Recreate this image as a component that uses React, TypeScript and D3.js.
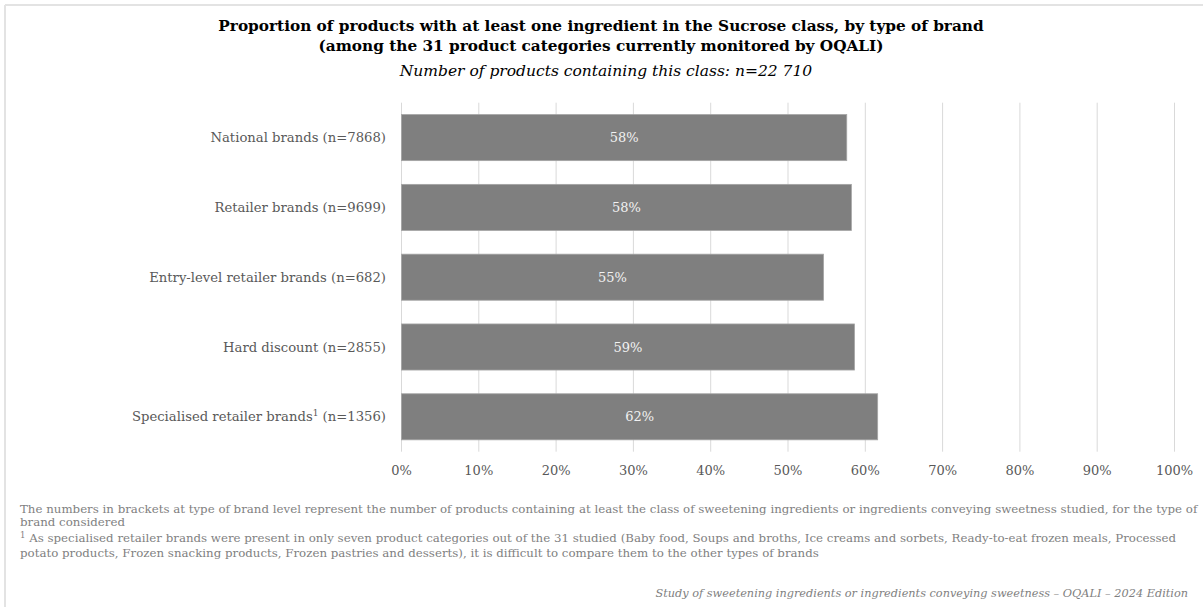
import React from "react";
import * as d3 from "d3";

const categories = [
  "National brands",
  "Retailer brands",
  "Entry-level retailer brands",
  "Hard discount",
  "Specialised retailer brands",
];
const counts = [7868, 9699, 682, 2855, 1356];
const superscripts = ["", "", "", "", "1"];
const values = [57.6, 58.2, 54.6, 58.6, 61.6];
const ticks = [0, 10, 20, 30, 40, 50, 60, 70, 80, 90, 100];

const titleLines = [
  "Proportion of products with at least one ingredient in the Sucrose class, by type of brand",
  "(among the 31 product categories currently monitored by OQALI)",
];
const subtitle = "Number of products containing this class: n=22 710";
const footnotes = [
  "The numbers in brackets at type of brand level represent the number of products containing at least the class of sweetening ingredients or ingredients conveying sweetness studied, for the type of",
  "brand considered",
];
const footnote2 = [
  " As specialised retailer brands were present in only seven product categories out of the 31 studied (Baby food, Soups and broths, Ice creams and sorbets, Ready-to-eat frozen meals, Processed",
  "potato products, Frozen snacking products, Frozen pastries and desserts), it is difficult to compare them to the other types of brands",
];
const source = "Study of sweetening ingredients or ingredients conveying sweetness \u2013 OQALI \u2013 2024 Edition";

const W = 1203;
const H = 607;
const FONT = "'DejaVu Serif', serif";

export default function App() {
  const x = d3.scaleLinear().domain([0, 100]).range([401.5, 1174.5]);
  const y = d3
    .scaleBand<number>()
    .domain(d3.range(categories.length))
    .range([102.7, 451.7])
    .paddingInner(0.34)
    .paddingOuter(0.17);

  return (
    <svg
      width={W}
      height={H}
      style={{ position: "absolute", left: 0, top: 0, background: "#fff" }}
      fontFamily={FONT}
    >
      <rect x={0} y={0} width={W} height={H} fill="#fff" />
      <line x1={5} y1={5} x2={W} y2={5} stroke="#e3e3e3" strokeWidth={2} />
      <line x1={5} y1={5} x2={5} y2={H} stroke="#e3e3e3" strokeWidth={2} />

      {titleLines.map((t, i) => (
        <text
          key={i}
          x={601}
          y={30.5 + i * 20.5}
          textAnchor="middle"
          fontWeight="bold"
          fontSize={15.3}
          fill="#000"
        >
          {t}
        </text>
      ))}
      <text x={606} y={75.5} textAnchor="middle" fontStyle="italic" fontSize={15.5} fill="#000">
        {subtitle}
      </text>

      {ticks.map((t) => (
        <line
          key={t}
          x1={x(t)}
          x2={x(t)}
          y1={y.range()[0]}
          y2={y.range()[1]}
          stroke="#d9d9d9"
          strokeWidth={1}
        />
      ))}

      {values.map((v, i) => (
        <g key={i}>
          <rect
            x={x(0)}
            y={y(i)!}
            width={x(v) - x(0)}
            height={y.bandwidth()}
            fill="#7f7f7f"
            stroke="#a5a5a5"
            strokeWidth={0.8}
          />
          <text
            x={(x(0) + x(v)) / 2}
            y={y(i)! + y.bandwidth() / 2}
            dy="0.35em"
            textAnchor="middle"
            fontSize={13}
            fill="#f2f2f2"
          >
            {Math.round(v)}%
          </text>
          <text
            x={386}
            y={y(i)! + y.bandwidth() / 2 + 4.6}
            textAnchor="end"
            fontSize={13.2}
            fill="#595959"
          >
            {categories[i]}
            {superscripts[i] ? (
              <tspan fontSize={9} dy={-5}>
                {superscripts[i]}
              </tspan>
            ) : null}
            <tspan dy={superscripts[i] ? 5 : 0}>{" (n=" + counts[i] + ")"}</tspan>
          </text>
        </g>
      ))}

      {ticks.map((t) => (
        <text
          key={t}
          x={x(t)}
          y={470}
          dy="0.35em"
          textAnchor="middle"
          fontSize={13}
          fill="#595959"
        >
          {t}%
        </text>
      ))}

      {footnotes.map((t, i) => (
        <text key={i} x={20} y={512.5 + i * 13.5} fontSize={11.8} fill="#7f7f7f">
          {t}
        </text>
      ))}
      {footnote2.map((t, i) => (
        <text key={i} x={20} y={541.5 + i * 15} fontSize={11.8} fill="#7f7f7f">
          {i === 0 ? (
            <tspan fontSize={8.5} dy={-4}>
              1
            </tspan>
          ) : null}
          {i === 0 ? <tspan dy={4}>{t}</tspan> : t}
        </text>
      ))}
      <text x={1188} y={596.5} textAnchor="end" fontSize={11.3} fontStyle="italic" fill="#7f7f7f">
        {source}
      </text>
    </svg>
  );
}
